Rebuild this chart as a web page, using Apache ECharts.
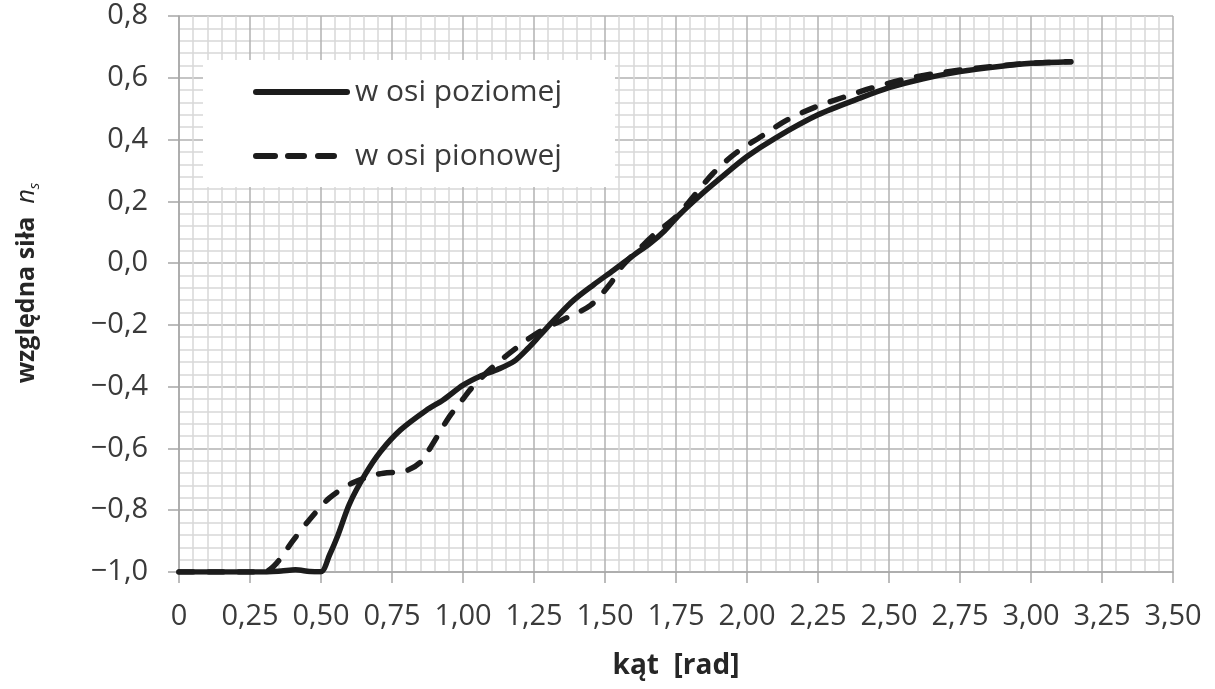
<!DOCTYPE html>
<html>
<head>
<meta charset="utf-8">
<script src="https://cdn.jsdelivr.net/npm/echarts@6/dist/echarts.min.js"></script>
<style>
  html, body { margin: 0; padding: 0; background: #fff; }
  #chart { width: 1215px; height: 689px; }
</style>
</head>
<body>
<div id="chart"></div>
<script>
// Relative force n_s versus angle [rad], two measurement directions
const seriesNames = ['w osi poziomej', 'w osi pionowej'];

// force measured along the horizontal axis: [angle, n_s]
const horizontal = [
  [0.00, -1.000], [0.10, -1.000], [0.20, -1.000], [0.30, -1.000],
  [0.36, -0.997], [0.41, -0.993], [0.46, -0.998], [0.50, -0.999],
  [0.53, -0.945], [0.56, -0.880], [0.60, -0.780], [0.655, -0.685],
  [0.71, -0.610], [0.78, -0.540], [0.87, -0.477], [0.93, -0.443],
  [1.00, -0.395], [1.06, -0.366], [1.12, -0.345], [1.18, -0.318],
  [1.23, -0.275], [1.27, -0.235], [1.33, -0.175], [1.39, -0.120],
  [1.46, -0.070], [1.53, -0.023], [1.60, 0.025], [1.66, 0.065],
  [1.71, 0.105], [1.76, 0.155], [1.83, 0.215], [1.90, 0.270],
  [2.00, 0.345], [2.10, 0.405], [2.25, 0.480], [2.40, 0.535],
  [2.50, 0.568], [2.62, 0.597], [2.75, 0.620], [2.88, 0.636],
  [3.00, 0.647], [3.14, 0.652]
];

// force measured along the vertical axis: [angle, n_s]
const vertical = [
  [0.00, -1.000], [0.10, -1.000], [0.20, -1.000], [0.30, -1.000],
  [0.345, -0.970], [0.40, -0.900], [0.46, -0.830], [0.53, -0.760],
  [0.61, -0.712], [0.68, -0.688], [0.72, -0.680], [0.80, -0.672],
  [0.85, -0.645], [0.89, -0.590], [0.95, -0.500], [1.00, -0.440],
  [1.03, -0.405], [1.10, -0.340], [1.18, -0.280], [1.26, -0.227],
  [1.35, -0.184], [1.45, -0.136], [1.52, -0.065], [1.56, -0.010],
  [1.62, 0.045], [1.67, 0.090], [1.75, 0.150], [1.81, 0.214],
  [1.88, 0.290], [1.96, 0.356], [2.05, 0.410], [2.14, 0.463],
  [2.24, 0.505], [2.34, 0.537], [2.44, 0.567], [2.54, 0.592],
  [2.65, 0.612], [2.75, 0.625], [2.88, 0.638], [3.00, 0.647],
  [3.14, 0.652]
];

const xTickLabels = ['0', '0,25', '0,50', '0,75', '1,00', '1,25', '1,50', '1,75',
  '2,00', '2,25', '2,50', '2,75', '3,00', '3,25', '3,50'];
const yTickLabels = ['\u22121,0', '\u22120,8', '\u22120,6', '\u22120,4', '\u22120,2',
  '0,0', '0,2', '0,4', '0,6', '0,8'];

const FONT = 'Open Sans';
const labelColor = '#3a3a3a';
const lineColor = '#1c1c1c';
const majorGrid = { color: '#b2b2b2', width: 1.5 };
const minorGrid = { color: '#d8d8d8', width: 1.5 };

// legend samples: a thick bar, and three short bars (ending before the icon box edge)
const solidIcon = 'path://M3,0 L94,0 A3,3 0 0 1 94,6 L3,6 A3,3 0 0 1 3,0 Z';
const dashedIcon = 'path://M3,0 L22,0 A3,3 0 0 1 22,6 L3,6 A3,3 0 0 1 3,0 Z ' +
  'M35,0 L51,0 A3,3 0 0 1 51,6 L35,6 A3,3 0 0 1 35,0 Z ' +
  'M65,0 L81,0 A3,3 0 0 1 81,6 L65,6 A3,3 0 0 1 65,0 Z M97,3 L97,3';

const chart = echarts.init(document.getElementById('chart'), null, { renderer: 'canvas' });

chart.setOption({
  animation: false,
  backgroundColor: '#ffffff',
  grid: { left: 179, right: 42, top: 16, bottom: 117 },
  graphic: {
    elements: [{
      type: 'rect', z: 1,
      shape: { x: 203, y: 60, width: 412, height: 127 },
      style: { fill: '#ffffff' }
    }]
  },
  legend: {
    orient: 'vertical',
    left: 253, top: 77, padding: 0,
    itemWidth: 97, itemHeight: 7, itemGap: 34,
    textStyle: { fontFamily: FONT, fontSize: 30, color: labelColor, lineHeight: 30 },
    data: [
      { name: seriesNames[0], icon: solidIcon },
      { name: seriesNames[1], icon: dashedIcon }
    ]
  },
  xAxis: {
    type: 'value', min: 0, max: 3.5, interval: 0.25,
    name: 'kąt  [rad]', nameLocation: 'middle', nameGap: 80,
    nameTextStyle: { fontFamily: FONT, fontSize: 28, fontWeight: 'bold', color: '#262626' },
    axisLine: { show: true, onZero: false, lineStyle: { color: '#a6a6a6', width: 1.5 } },
    axisTick: { show: true, length: 11, lineStyle: { color: '#a6a6a6', width: 1.5 } },
    axisLabel: {
      margin: 30, fontFamily: FONT, fontSize: 29, color: labelColor,
      formatter: (v, i) => xTickLabels[i]
    },
    splitLine: { show: true, lineStyle: majorGrid },
    minorTick: { show: false, splitNumber: 5 },
    minorSplitLine: { show: true, lineStyle: minorGrid }
  },
  yAxis: {
    type: 'value', min: -1, max: 0.8, interval: 0.2,
    name: '{a|względna siła  }{n|n}{s|s}',
    nameLocation: 'middle', nameGap: 137,
    nameTextStyle: {
      padding: [0, 0, 0, 22],
      rich: {
        a: { fontFamily: FONT, fontSize: 25, fontWeight: 'bold', color: '#262626', lineHeight: 30 },
        n: { fontFamily: FONT, fontSize: 25, fontStyle: 'italic', color: '#262626', lineHeight: 30 },
        s: { fontFamily: FONT, fontSize: 15, fontStyle: 'italic', color: '#262626', lineHeight: 14, verticalAlign: 'bottom' }
      }
    },
    axisLine: { show: true, onZero: false, lineStyle: { color: '#a6a6a6', width: 1.5 } },
    axisTick: { show: true, length: 11, lineStyle: { color: '#a6a6a6', width: 1.5 } },
    axisLabel: {
      margin: 31, fontFamily: FONT, fontSize: 29, color: labelColor,
      formatter: (v, i) => yTickLabels[i]
    },
    splitLine: { show: true, lineStyle: majorGrid },
    minorTick: { show: false, splitNumber: 5 },
    minorSplitLine: { show: true, lineStyle: minorGrid }
  },
  series: [
    {
      name: seriesNames[0], type: 'line', data: horizontal,
      symbol: 'none', smooth: 0.3, z: 3,
      lineStyle: { color: lineColor, width: 5.5, cap: 'round', join: 'round' },
      itemStyle: { color: lineColor }
    },
    {
      name: seriesNames[1], type: 'line', data: vertical,
      symbol: 'none', smooth: 0.3, z: 2,
      lineStyle: { color: lineColor, width: 5.5, type: [14, 16], cap: 'round', join: 'round' },
      itemStyle: { color: lineColor }
    }
  ]
});
</script>
</body>
</html>
